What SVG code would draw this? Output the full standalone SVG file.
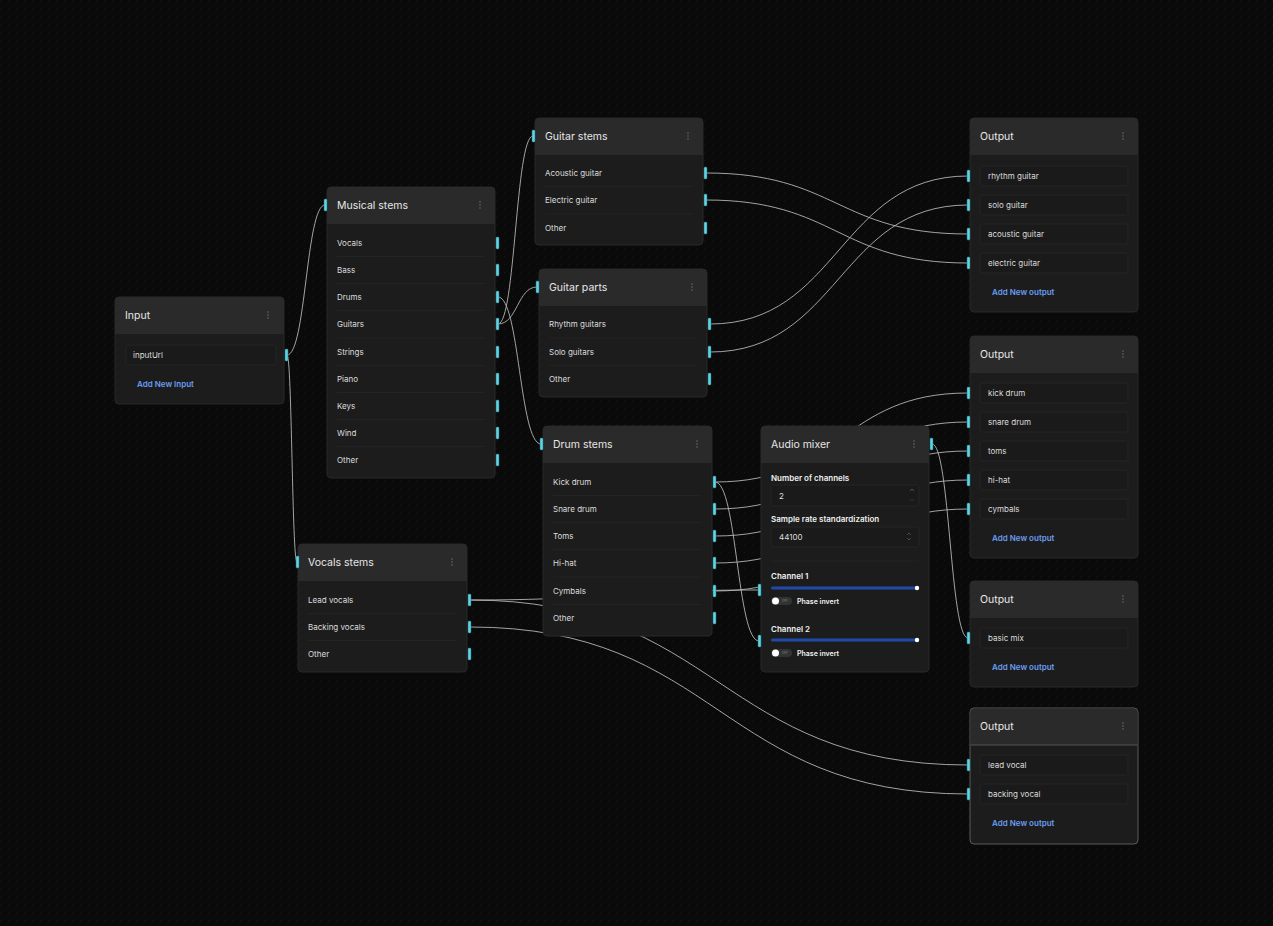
<svg xmlns="http://www.w3.org/2000/svg" width="1273" height="926" viewBox="0 0 1273 926">
<defs>
<pattern id="grid" width="8" height="8" patternUnits="userSpaceOnUse">
<rect width="8" height="8" fill="#0a0a0a"/>
<rect x="0" y="0" width="1" height="1" fill="#171717"/>
</pattern>
<style>
.body{fill:#1c1c1c;stroke:#282828;stroke-width:1}
.hdr{fill:#2a2a2a}
.title{font-family:Inter,"Liberation Sans",sans-serif;font-size:10.5px;fill:#e6e6e6}
.row{font-family:Inter,"Liberation Sans",sans-serif;font-size:8px;fill:#dcdcdc}
.lbl{font-family:Inter,"Liberation Sans",sans-serif;font-size:8px;fill:#f0f0f0;font-weight:600}
.add{font-family:Inter,"Liberation Sans",sans-serif;font-size:8px;fill:#6b9cf2;font-weight:600}
.sep{stroke:#232323;stroke-width:1}
.field{fill:#1a1a1a;stroke:#242424;stroke-width:1}
.port{fill:#5fd4e2;stroke:#2a6f78;stroke-width:0.5}
.dot{fill:#6a6a6a}
.wire{fill:none;stroke:#bdbdbd;stroke-width:1;opacity:0.85}
.track{fill:#1f4aa8}
.knob{fill:#ffffff}
.tog{fill:#333333}
.tiny{font-family:Inter,"Liberation Sans",sans-serif;font-size:3px;fill:#888}
</style>
</defs>
<rect width="1273" height="926" fill="url(#grid)"/>

<g id="connectors">
<path class="wire" d="M287,355 C306,355 306,205 325,205"/>
<path class="wire" d="M287,355 C292,355 292,562 297,562"/>
<path class="wire" d="M498,324 C515.5,324 515.5,136 533,136"/>
<path class="wire" d="M498,324 C517.5,324 517.5,287 537,287"/>
<path class="wire" d="M498,297 C519.5,297 519.5,444 541,444"/>
<path class="wire" d="M706,173 C837,173 837,234 968,234"/>
<path class="wire" d="M706,200 C837,200 837,263 968,263"/>
<path class="wire" d="M710,324 C839,324 839,176 968,176"/>
<path class="wire" d="M710,352 C839,352 839,205 968,205"/>
<path class="wire" d="M715,482 C841.5,482 841.5,393 968,393"/>
<path class="wire" d="M715,509 C841.5,509 841.5,422 968,422"/>
<path class="wire" d="M715,536 C841.5,536 841.5,451 968,451"/>
<path class="wire" d="M715,563 C841.5,563 841.5,480 968,480"/>
<path class="wire" d="M715,591 C841.5,591 841.5,509 968,509"/>
<path class="wire" d="M932,444 C950,444 950,638 968,638"/>
<path class="wire" d="M470,600 C719,600 719,765 968,765"/>
<path class="wire" d="M470,627 C719,627 719,794 968,794"/>
<path class="wire" d="M470,600 C614.5,600 614.5,590 759,590"/>
<path class="wire" d="M715,482 C737,482 737,641 759,641"/>
</g>

<g id="node-input">
<rect class="body" x="115" y="297" width="169" height="107" rx="4"/>
<path class="hdr" d="M119,297 H280 A4,4 0 0 1 284,301 V334 H115 V301 A4,4 0 0 1 119,297 Z"/>
<text class="title" x="125" y="319">Input</text>
<circle class="dot" cx="268" cy="312" r="0.8"/><circle class="dot" cx="268" cy="315" r="0.8"/><circle class="dot" cx="268" cy="318" r="0.8"/>
<rect class="field" x="126" y="345" width="150" height="20" rx="2"/>
<text class="row" x="133" y="358">inputUrl</text>
<text class="add" x="137" y="387">Add New Input</text>
<rect class="port" x="285" y="349" width="3" height="12" rx="1"/>
</g>

<g id="node-musical-stems">
<rect class="body" x="327" y="187" width="168" height="291" rx="4"/>
<path class="hdr" d="M331,187 H491 A4,4 0 0 1 495,191 V224 H327 V191 A4,4 0 0 1 331,187 Z"/>
<text class="title" x="337" y="209">Musical stems</text>
<circle class="dot" cx="480" cy="202" r="0.8"/><circle class="dot" cx="480" cy="205" r="0.8"/><circle class="dot" cx="480" cy="208" r="0.8"/>
<rect class="port" x="324" y="199" width="3" height="12" rx="1"/>
<text class="row" x="337" y="246">Vocals</text>
<text class="row" x="337" y="273">Bass</text>
<text class="row" x="337" y="300">Drums</text>
<text class="row" x="337" y="327">Guitars</text>
<text class="row" x="337" y="355">Strings</text>
<text class="row" x="337" y="382">Piano</text>
<text class="row" x="337" y="409">Keys</text>
<text class="row" x="337" y="436">Wind</text>
<text class="row" x="337" y="463">Other</text>
<path class="sep" d="M337,256.5H485M337,283.5H485M337,310.5H485M337,338H485M337,365.5H485M337,392.5H485M337,419.5H485M337,446.5H485"/>
<rect class="port" x="496" y="237" width="3" height="12" rx="1"/>
<rect class="port" x="496" y="264" width="3" height="12" rx="1"/>
<rect class="port" x="496" y="291" width="3" height="12" rx="1"/>
<rect class="port" x="496" y="318" width="3" height="12" rx="1"/>
<rect class="port" x="496" y="346" width="3" height="12" rx="1"/>
<rect class="port" x="496" y="373" width="3" height="12" rx="1"/>
<rect class="port" x="496" y="400" width="3" height="12" rx="1"/>
<rect class="port" x="496" y="427" width="3" height="12" rx="1"/>
<rect class="port" x="496" y="454" width="3" height="12" rx="1"/>
</g>

<g id="node-guitar-stems">
<rect class="body" x="535" y="118" width="168" height="127" rx="4"/>
<path class="hdr" d="M539,118 H699 A4,4 0 0 1 703,122 V155 H535 V122 A4,4 0 0 1 539,118 Z"/>
<text class="title" x="545" y="140">Guitar stems</text>
<circle class="dot" cx="688" cy="133" r="0.8"/><circle class="dot" cx="688" cy="136" r="0.8"/><circle class="dot" cx="688" cy="139" r="0.8"/>
<rect class="port" x="532" y="130" width="3" height="12" rx="1"/>
<text class="row" x="545" y="176">Acoustic guitar</text>
<text class="row" x="545" y="203">Electric guitar</text>
<text class="row" x="545" y="231">Other</text>
<path class="sep" d="M545,186.5H693M545,214H693"/>
<rect class="port" x="704" y="167" width="3" height="12" rx="1"/>
<rect class="port" x="704" y="194" width="3" height="12" rx="1"/>
<rect class="port" x="704" y="222" width="3" height="12" rx="1"/>
</g>

<g id="node-guitar-parts">
<rect class="body" x="539" y="269" width="168" height="128" rx="4"/>
<path class="hdr" d="M543,269 H703 A4,4 0 0 1 707,273 V306 H539 V273 A4,4 0 0 1 543,269 Z"/>
<text class="title" x="549" y="291">Guitar parts</text>
<circle class="dot" cx="692" cy="284" r="0.8"/><circle class="dot" cx="692" cy="287" r="0.8"/><circle class="dot" cx="692" cy="290" r="0.8"/>
<rect class="port" x="536" y="281" width="3" height="12" rx="1"/>
<text class="row" x="549" y="327">Rhythm guitars</text>
<text class="row" x="549" y="355">Solo guitars</text>
<text class="row" x="549" y="382">Other</text>
<path class="sep" d="M549,338H697M549,365.5H697"/>
<rect class="port" x="708" y="318" width="3" height="12" rx="1"/>
<rect class="port" x="708" y="346" width="3" height="12" rx="1"/>
<rect class="port" x="708" y="373" width="3" height="12" rx="1"/>
</g>

<g id="node-drum-stems">
<rect class="body" x="543" y="426" width="169" height="210" rx="4"/>
<path class="hdr" d="M547,426 H708 A4,4 0 0 1 712,430 V463 H543 V430 A4,4 0 0 1 547,426 Z"/>
<text class="title" x="553" y="448">Drum stems</text>
<circle class="dot" cx="697" cy="441" r="0.8"/><circle class="dot" cx="697" cy="444" r="0.8"/><circle class="dot" cx="697" cy="447" r="0.8"/>
<rect class="port" x="540" y="438" width="3" height="12" rx="1"/>
<text class="row" x="553" y="485">Kick drum</text>
<text class="row" x="553" y="512">Snare drum</text>
<text class="row" x="553" y="539">Toms</text>
<text class="row" x="553" y="566">Hi-hat</text>
<text class="row" x="553" y="594">Cymbals</text>
<text class="row" x="553" y="621">Other</text>
<path class="sep" d="M553,495.5H702M553,522.5H702M553,549.5H702M553,577H702M553,604.5H702"/>
<rect class="port" x="713" y="476" width="3" height="12" rx="1"/>
<rect class="port" x="713" y="503" width="3" height="12" rx="1"/>
<rect class="port" x="713" y="530" width="3" height="12" rx="1"/>
<rect class="port" x="713" y="557" width="3" height="12" rx="1"/>
<rect class="port" x="713" y="585" width="3" height="12" rx="1"/>
<rect class="port" x="713" y="612" width="3" height="12" rx="1"/>
</g>

<g id="node-vocals-stems">
<rect class="body" x="298" y="544" width="169" height="128" rx="4"/>
<path class="hdr" d="M302,544 H463 A4,4 0 0 1 467,548 V581 H298 V548 A4,4 0 0 1 302,544 Z"/>
<text class="title" x="308" y="566">Vocals stems</text>
<circle class="dot" cx="452" cy="559" r="0.8"/><circle class="dot" cx="452" cy="562" r="0.8"/><circle class="dot" cx="452" cy="565" r="0.8"/>
<rect class="port" x="296" y="556" width="3" height="12" rx="1"/>
<text class="row" x="308" y="603">Lead vocals</text>
<text class="row" x="308" y="630">Backing vocals</text>
<text class="row" x="308" y="657">Other</text>
<path class="sep" d="M308,613.5H457M308,640.5H457"/>
<rect class="port" x="468" y="594" width="3" height="12" rx="1"/>
<rect class="port" x="468" y="621" width="3" height="12" rx="1"/>
<rect class="port" x="468" y="648" width="3" height="12" rx="1"/>
</g>

<g id="node-audio-mixer">
<rect class="body" x="761" y="426" width="168" height="246" rx="4"/>
<path class="hdr" d="M765,426 H925 A4,4 0 0 1 929,430 V463 H761 V430 A4,4 0 0 1 765,426 Z"/>
<text class="title" x="771" y="448">Audio mixer</text>
<circle class="dot" cx="914" cy="441" r="0.8"/><circle class="dot" cx="914" cy="444" r="0.8"/><circle class="dot" cx="914" cy="447" r="0.8"/>
<rect class="port" x="930" y="438" width="3" height="12" rx="1"/>
<text class="lbl" x="771" y="481">Number of channels</text>
<rect class="field" x="771" y="485" width="148" height="21" rx="2"/>
<text class="row" x="779" y="499">2</text>
<path d="M910,491 l2,-2 l2,2" fill="none" stroke="#777" stroke-width="0.6"/>
<path d="M910,499 l2,2 l2,-2" fill="none" stroke="#444" stroke-width="0.6"/>
<text class="lbl" x="771" y="522">Sample rate standardization</text>
<rect class="field" x="771" y="527" width="148" height="20" rx="2"/>
<text class="row" x="779" y="540">44100</text>
<path d="M907,535 l2,-2 l2,2 M907,538 l2,2 l2,-2" fill="none" stroke="#666" stroke-width="0.6"/>
<path class="sep" d="M771,561H919"/>
<text class="lbl" x="771" y="579">Channel 1</text>
<rect class="track" x="771" y="586.5" width="146" height="3" rx="1.5"/>
<circle class="knob" cx="917" cy="588" r="2.2"/>
<rect class="tog" x="771" y="597" width="21" height="8" rx="4"/>
<circle class="knob" cx="775.5" cy="601" r="3.5"/>
<text class="tiny" x="782" y="602">OFF</text>
<text class="lbl" x="797" y="604" style="font-size:7px">Phase invert</text>
<text class="lbl" x="771" y="632">Channel 2</text>
<rect class="track" x="771" y="638.5" width="146" height="3" rx="1.5"/>
<circle class="knob" cx="917" cy="640" r="2.2"/>
<rect class="tog" x="771" y="649" width="21" height="8" rx="4"/>
<circle class="knob" cx="775.5" cy="653" r="3.5"/>
<text class="tiny" x="782" y="654">OFF</text>
<text class="lbl" x="797" y="656" style="font-size:7px">Phase invert</text>
<rect class="port" x="758" y="584" width="3" height="12" rx="1"/>
<rect class="port" x="758" y="635" width="3" height="12" rx="1"/>
</g>

<g id="node-output-guitars">
<rect class="body" x="970" y="118" width="168" height="194" rx="4"/>
<path class="hdr" d="M974,118 H1134 A4,4 0 0 1 1138,122 V155 H970 V122 A4,4 0 0 1 974,118 Z"/>
<text class="title" x="980" y="140">Output</text>
<circle class="dot" cx="1123" cy="133" r="0.8"/><circle class="dot" cx="1123" cy="136" r="0.8"/><circle class="dot" cx="1123" cy="139" r="0.8"/>
<rect class="field" x="980" y="166" width="148" height="20" rx="2"/>
<text class="row" x="988" y="179">rhythm guitar</text>
<rect class="field" x="980" y="195" width="148" height="20" rx="2"/>
<text class="row" x="988" y="208">solo guitar</text>
<rect class="field" x="980" y="224" width="148" height="20" rx="2"/>
<text class="row" x="988" y="237">acoustic guitar</text>
<rect class="field" x="980" y="253" width="148" height="20" rx="2"/>
<text class="row" x="988" y="266">electric guitar</text>
<text class="add" x="992" y="295">Add New output</text>
<rect class="port" x="967" y="170" width="3" height="12" rx="1"/>
<rect class="port" x="967" y="199" width="3" height="12" rx="1"/>
<rect class="port" x="967" y="228" width="3" height="12" rx="1"/>
<rect class="port" x="967" y="257" width="3" height="12" rx="1"/>
</g>

<g id="node-output-drums">
<rect class="body" x="970" y="336" width="168" height="222" rx="4"/>
<path class="hdr" d="M974,336 H1134 A4,4 0 0 1 1138,340 V373 H970 V340 A4,4 0 0 1 974,336 Z"/>
<text class="title" x="980" y="358">Output</text>
<circle class="dot" cx="1123" cy="351" r="0.8"/><circle class="dot" cx="1123" cy="354" r="0.8"/><circle class="dot" cx="1123" cy="357" r="0.8"/>
<rect class="field" x="980" y="383" width="148" height="20" rx="2"/>
<text class="row" x="988" y="396">kick drum</text>
<rect class="field" x="980" y="412" width="148" height="20" rx="2"/>
<text class="row" x="988" y="425">snare drum</text>
<rect class="field" x="980" y="441" width="148" height="20" rx="2"/>
<text class="row" x="988" y="454">toms</text>
<rect class="field" x="980" y="470" width="148" height="20" rx="2"/>
<text class="row" x="988" y="483">hi-hat</text>
<rect class="field" x="980" y="499" width="148" height="20" rx="2"/>
<text class="row" x="988" y="512">cymbals</text>
<text class="add" x="992" y="541">Add New output</text>
<rect class="port" x="967" y="387" width="3" height="12" rx="1"/>
<rect class="port" x="967" y="416" width="3" height="12" rx="1"/>
<rect class="port" x="967" y="445" width="3" height="12" rx="1"/>
<rect class="port" x="967" y="474" width="3" height="12" rx="1"/>
<rect class="port" x="967" y="503" width="3" height="12" rx="1"/>
</g>

<g id="node-output-mix">
<rect class="body" x="970" y="581" width="168" height="106" rx="4"/>
<path class="hdr" d="M974,581 H1134 A4,4 0 0 1 1138,585 V618 H970 V585 A4,4 0 0 1 974,581 Z"/>
<text class="title" x="980" y="603">Output</text>
<circle class="dot" cx="1123" cy="596" r="0.8"/><circle class="dot" cx="1123" cy="599" r="0.8"/><circle class="dot" cx="1123" cy="602" r="0.8"/>
<rect class="field" x="980" y="628" width="148" height="20" rx="2"/>
<text class="row" x="988" y="641">basic mix</text>
<text class="add" x="992" y="670">Add New output</text>
<rect class="port" x="967" y="632" width="3" height="12" rx="1"/>
</g>

<g id="node-output-vocals">
<rect class="body" x="970" y="708" width="168" height="136" rx="4" style="stroke:#5a5a5a"/>
<path class="hdr" d="M974,708.5 H1134 A3.5,3.5 0 0 1 1137.5,712 V745 H970.5 V712 A3.5,3.5 0 0 1 974,708.5 Z"/>
<path d="M970.5,745H1137.5" stroke="#555" stroke-width="1"/>
<text class="title" x="980" y="730">Output</text>
<circle class="dot" cx="1123" cy="723" r="0.8"/><circle class="dot" cx="1123" cy="726" r="0.8"/><circle class="dot" cx="1123" cy="729" r="0.8"/>
<rect class="field" x="980" y="755" width="148" height="20" rx="2"/>
<text class="row" x="988" y="768">lead vocal</text>
<rect class="field" x="980" y="784" width="148" height="20" rx="2"/>
<text class="row" x="988" y="797">backing vocal</text>
<text class="add" x="992" y="826">Add New output</text>
<rect class="port" x="967" y="759" width="3" height="12" rx="1"/>
<rect class="port" x="967" y="788" width="3" height="12" rx="1"/>
</g>
</svg>
